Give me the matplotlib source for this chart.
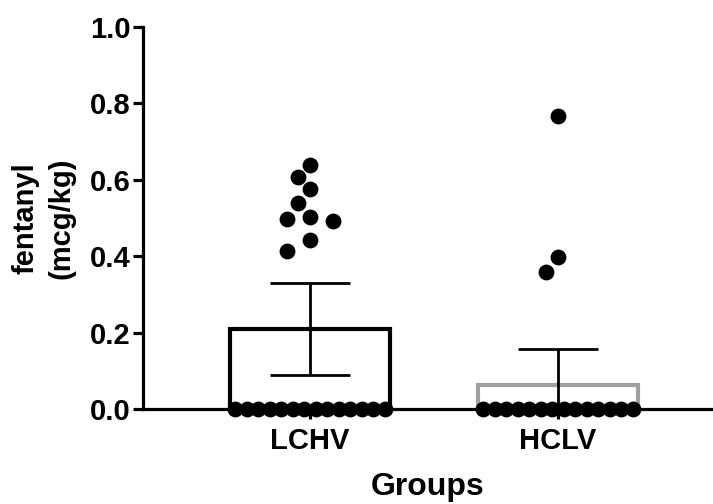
import numpy as np
import matplotlib
matplotlib.use("Agg")
import matplotlib.pyplot as plt

plt.rcParams['font.family'] = ['Liberation Sans', 'DejaVu Sans']
plt.rcParams['font.weight'] = 'bold'

groups = ["LCHV", "HCLV"]
lchv_values = [0.639, 0.607, 0.576, 0.539, 0.503, 0.497, 0.492, 0.442, 0.414] + [0.0] * 14
hclv_values = [0.767, 0.398, 0.359] + [0.0] * 14
means = [0.21, 0.063]
errs = [0.12, 0.095]
edge_colors = ["#000000", "#a0a0a0"]

W, H, DPI = 7.13, 5.04, 100
fig = plt.figure(figsize=(W, H), dpi=DPI)
ax = fig.add_axes([143 / 713, 95 / 504, 1 - 143 / 713, (409 - 27) / 504])

x0, x1 = -0.673, 1.625
ax.set_xlim(x0, x1)
ax.set_ylim(0, 1.0)

ax_w_px = 713 - 143
ax_h_px = 409 - 27
px_per_x = ax_w_px / (x1 - x0)
px_per_y = ax_h_px / 1.0


def swarm(values, center):
    """Greedy beeswarm in pixel space; returns x positions."""
    step = 11.5
    placed = []
    order = np.argsort(-np.asarray(values), kind="stable")
    res = [0.0] * len(values)
    cands = [0.0]
    for k in range(1, 20):
        cands += [-k * step, k * step]
    for i in order:
        y = values[i] * px_per_y
        for c in cands:
            ok = True
            for (px, py) in placed:
                dx = c - px
                dy = y - py
                if abs(dy) < 1e-6:
                    if abs(dx) < 10.5:
                        ok = False
                        break
                elif dx * dx + dy * dy < 16.0 ** 2:
                    ok = False
                    break
            if ok:
                placed.append((c, y))
                res[i] = c
                break
    vals = np.asarray(values)
    res = np.asarray(res)
    for v in np.unique(vals):
        m = vals == v
        if m.sum() > 3:
            res[m] = res[m] - (res[m].max() + res[m].min()) / 2
    return center + res / px_per_x


for i, (g, vals) in enumerate(zip(groups, [lchv_values, hclv_values])):
    ax.bar(i, means[i], width=160 / px_per_x, facecolor="white",
           edgecolor=edge_colors[i], linewidth=3.0, zorder=2)
    ax.errorbar(i, means[i], yerr=errs[i], fmt="none", ecolor="black",
                elinewidth=2.0, capsize=29, capthick=2.0, zorder=3)
    xs = swarm(vals, i)
    ax.scatter(xs, vals, s=130, color="black", zorder=5, clip_on=False,
               linewidths=0)

for s in ["top", "right"]:
    ax.spines[s].set_visible(False)
for s in ["left", "bottom"]:
    ax.spines[s].set_linewidth(2.3)

ax.set_yticks([0.0, 0.2, 0.4, 0.6, 0.8, 1.0])
ax.set_yticklabels(["0.0", "0.2", "0.4", "0.6", "0.8", "1.0"])
ax.set_xticks([0, 1])
ax.set_xticklabels(groups)
ax.tick_params(axis="both", width=2.3, length=7, labelsize=21, pad=2)
ax.tick_params(axis="x", pad=6)

ax.set_ylabel("fentanyl\n(mcg/kg)", fontsize=21, fontweight="bold", labelpad=10,
              linespacing=1.4)
ax.set_xlabel("Groups", fontsize=23, fontweight="bold", labelpad=12)

fig.savefig("out.png", dpi=DPI)
